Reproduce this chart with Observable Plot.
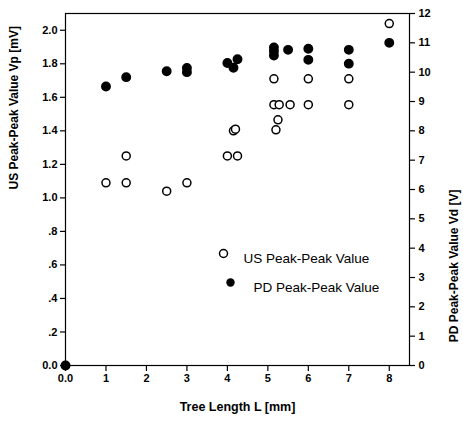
<!DOCTYPE html>
<html>
<head>
<meta charset="utf-8">
<script src="https://cdn.jsdelivr.net/npm/d3@7"></script>
<script src="https://cdn.jsdelivr.net/npm/@observablehq/plot@0.6"></script>
<style>
  html, body { margin: 0; padding: 0; background: #fff; }
  svg { font-family: "Liberation Sans", Arial, sans-serif; }
</style>
</head>
<body>
<div id="chart"></div>
<script>
// Tree length L [mm]
const usLength = [0, 1, 1.5, 1.5, 2.5, 3, 4, 4.25, 4.15, 4.2, 5.15, 5.28, 5.15, 5.55, 5.25, 5.2, 6, 6, 7, 7, 8];
// US peak-peak value Vp [mV] (left axis)
const usValue  = [0, 1.09, 1.09, 1.25, 1.04, 1.09, 1.25, 1.25, 1.40, 1.41, 1.556, 1.556, 1.71, 1.556, 1.466, 1.406, 1.71, 1.556, 1.71, 1.556, 2.04];

const pdLength = [0, 1, 1.5, 2.5, 3, 3, 4, 4.15, 4.25, 5.15, 5.15, 5.15, 5.5, 6, 6, 7, 7, 8];
// PD peak-peak value Vd [V] (right axis)
const pdValue  = [0, 9.51, 9.83, 10.03, 10.14, 10.0, 10.31, 10.15, 10.44, 10.84, 10.71, 10.57, 10.76, 10.8, 10.42, 10.76, 10.29, 11.0];

const xTicks = [0, 1, 2, 3, 4, 5, 6, 7, 8];
const xTickLabels = ["0.0", "1", "2", "3", "4", "5", "6", "7", "8"];
const leftTicks = [0, 0.2, 0.4, 0.6, 0.8, 1.0, 1.2, 1.4, 1.6, 1.8, 2.0];
const leftTickLabels = ["0.0", ".2", ".4", ".6", ".8", "1.0", "1.2", "1.4", "1.6", "1.8", "2.0"];
const rightTicks = [0, 1, 2, 3, 4, 5, 6, 7, 8, 9, 10, 11, 12];

const leftMax = 2.1, rightMax = 12;
const toLeft = v => v * leftMax / rightMax;

const us = usLength.map((x, i) => ({x, y: usValue[i]}));
const pd = pdLength.map((x, i) => ({x, y: toLeft(pdValue[i])}));

const tickFont = {fontSize: 11, fontWeight: "bold"};

const chart = Plot.plot({
  width: 463,
  height: 423,
  marginLeft: 65,
  marginRight: 54,
  marginTop: 13,
  marginBottom: 58,
  style: {fontFamily: "'Liberation Sans', Arial, sans-serif", color: "#000", background: "#fff"},
  x: {domain: [0, 8.5], axis: null},
  y: {domain: [0, leftMax], axis: null},
  marks: [
    Plot.frame({stroke: "#000", strokeWidth: 1.2}),
    Plot.axisX(xTicks, {tickSize: 6, tickPadding: 3, tickFormat: (d, i) => xTickLabels[i], ...tickFont, label: null, strokeWidth: 1.2}),
    Plot.axisY(leftTicks, {anchor: "left", tickSize: 5, tickPadding: 3, tickFormat: (d, i) => leftTickLabels[i], ...tickFont, label: null, strokeWidth: 1.2}),
    Plot.axisY(rightTicks.map(toLeft), {anchor: "right", tickSize: 5, tickPadding: 4, tickFormat: d => String(Math.round(d * rightMax / leftMax)), ...tickFont, label: null, strokeWidth: 1.2}),
    Plot.text(["Tree Length L [mm]"], {frameAnchor: "bottom", dy: 45, fontSize: 12.5, fontWeight: "bold"}),
    Plot.text(["US Peak-Peak Value Vp [mV]"], {frameAnchor: "left", dx: -51, rotate: -90, fontSize: 12, fontWeight: "bold"}),
    Plot.text(["PD Peak-Peak Value Vd [V]"], {frameAnchor: "right", dx: 45, rotate: -90, fontSize: 12, fontWeight: "bold"}),
    Plot.dot(us, {x: "x", y: "y", r: 4, stroke: "#000", strokeWidth: 1.5, fill: "#fff"}),
    Plot.dot(pd, {x: "x", y: "y", r: 4.2, fill: "#000", stroke: "#000"}),
    // legend
    Plot.dot([0], {frameAnchor: "top-left", dx: 158, dy: 240, r: 4, stroke: "#000", strokeWidth: 1.5, fill: "#fff"}),
    Plot.text(["US Peak-Peak Value"], {frameAnchor: "top-left", dx: 178, dy: 240, textAnchor: "start", fontSize: 13.5}),
    Plot.dot([0], {frameAnchor: "top-left", dx: 165, dy: 269, r: 4.2, fill: "#000"}),
    Plot.text(["PD Peak-Peak Value"], {frameAnchor: "top-left", dx: 188, dy: 269, textAnchor: "start", fontSize: 13.5})
  ]
});
document.getElementById("chart").appendChild(chart);
</script>
</body>
</html>
